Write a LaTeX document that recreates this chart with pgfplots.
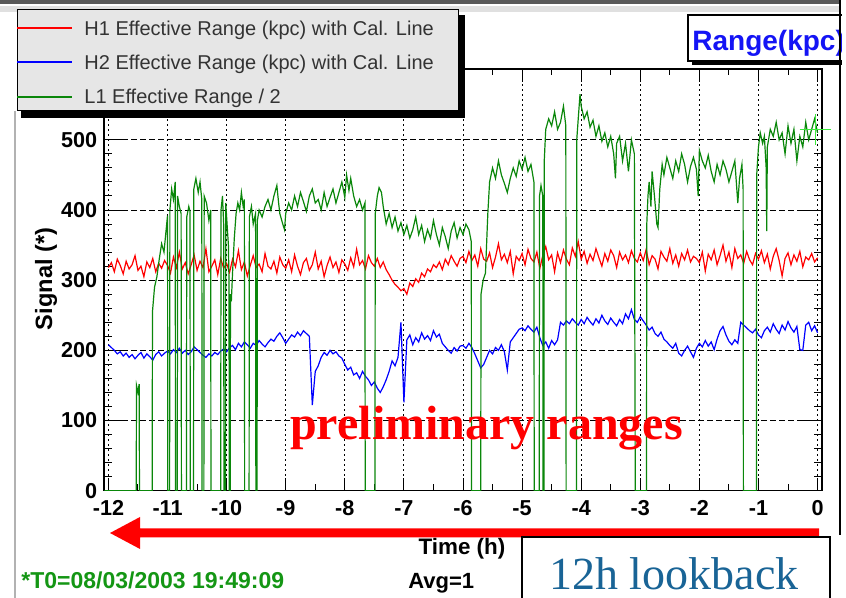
\documentclass[border=0pt]{standalone}
\usepackage{pgfplots}
\pgfplotsset{compat=1.18}
\usepackage{pgfplotstable}
\usepackage{fontspec}
\setmainfont{Liberation Sans}
\newfontfamily\timesfont{Liberation Serif}

\definecolor{h1red}{RGB}{255,0,0}
\definecolor{h2blue}{RGB}{0,0,255}
\definecolor{l1green}{RGB}{10,135,10}
\definecolor{markgreen}{RGB}{60,235,60}
\definecolor{legfill}{RGB}{230,230,230}
\definecolor{lookblue}{RGB}{25,100,150}
\definecolor{tgreen}{RGB}{20,150,20}
\definecolor{titleblue}{RGB}{20,20,245}

\pgfplotstableread{
t h1 h2
-12.00 318 208
-11.95 325 204
-11.90 312 200
-11.85 330 195
-11.80 321 198
-11.75 309 192
-11.70 327 196
-11.65 316 190
-11.60 322 194
-11.55 335 188
-11.50 314 193
-11.45 320 197
-11.40 305 189
-11.35 326 195
-11.30 318 191
-11.25 331 186
-11.20 312 194
-11.15 324 198
-11.10 317 192
-11.05 328 196
-11.00 321 199
-10.95 310 195
-10.90 333 201
-10.85 318 197
-10.80 340 203
-10.75 316 196
-10.70 325 200
-10.65 309 194
-10.60 322 198
-10.55 336 205
-10.50 314 201
-10.45 327 197
-10.40 318 193
-10.35 345 190
-10.30 312 195
-10.25 320 192
-10.20 329 197
-10.15 308 194
-10.10 331 199
-10.05 317 202
-10.00 324 198
-9.95 311 204
-9.90 330 207
-9.85 319 201
-9.80 342 210
-9.75 315 205
-9.70 326 212
-9.65 306 208
-9.60 321 203
-9.55 335 210
-9.50 318 207
-9.45 323 214
-9.40 312 209
-9.35 338 205
-9.30 320 211
-9.25 316 216
-9.20 327 213
-9.15 310 220
-9.10 333 225
-9.05 322 218
-9.00 317 210
-8.95 329 216
-8.90 312 222
-8.85 336 219
-8.80 320 226
-8.75 308 221
-8.70 325 228
-8.65 331 224
-8.60 314 220
-8.55 322 122
-8.50 340 170
-8.45 316 178
-8.40 327 190
-8.35 305 197
-8.30 321 193
-8.25 333 200
-8.20 318 195
-8.15 326 198
-8.10 311 192
-8.05 329 189
-8.00 323 180
-7.95 314 172
-7.90 332 176
-7.85 319 165
-7.80 344 168
-7.75 322 160
-7.70 328 170
-7.65 316 163
-7.60 335 158
-7.55 325 150
-7.50 320 155
-7.45 331 146
-7.40 318 140
-7.35 326 148
-7.30 315 158
-7.25 308 170
-7.20 300 185
-7.15 294 178
-7.10 290 190
-7.05 285 240
-7.00 288 126
-6.95 280 215
-6.90 296 222
-6.85 291 208
-6.80 302 218
-6.75 297 212
-6.70 310 225
-6.65 305 216
-6.60 316 221
-6.55 312 214
-6.50 322 228
-6.45 318 219
-6.40 326 223
-6.35 315 210
-6.30 330 205
-6.25 322 200
-6.20 335 196
-6.15 327 204
-6.10 320 199
-6.05 331 206
-6.00 334 207
-5.95 325 203
-5.90 341 210
-5.85 328 204
-5.80 336 195
-5.75 320 185
-5.70 345 175
-5.65 330 180
-5.60 327 190
-5.55 339 200
-5.50 318 195
-5.45 333 204
-5.40 352 200
-5.35 329 208
-5.30 337 198
-5.25 325 172
-5.20 341 212
-5.15 309 218
-5.10 334 224
-5.05 328 230
-5.00 338 232
-4.95 322 228
-4.90 344 235
-4.85 331 230
-4.80 326 226
-4.75 340 233
-4.70 317 218
-4.65 335 207
-4.60 348 212
-4.55 329 203
-4.50 336 214
-4.45 312 208
-4.40 339 215
-4.35 325 240
-4.30 343 236
-4.25 330 242
-4.20 322 238
-4.15 346 245
-4.10 334 240
-4.05 355 236
-4.00 330 244
-3.95 341 238
-3.90 324 247
-3.85 337 241
-3.80 328 236
-3.75 345 245
-3.70 332 239
-3.65 320 250
-3.60 338 242
-3.55 327 237
-3.50 343 246
-3.45 335 240
-3.40 318 235
-3.35 340 244
-3.30 329 238
-3.25 336 252
-3.20 325 245
-3.15 342 258
-3.10 331 244
-3.05 326 240
-3.00 339 248
-2.95 328 242
-2.90 344 236
-2.85 322 229
-2.80 335 233
-2.75 330 224
-2.70 316 220
-2.65 341 226
-2.60 333 216
-2.55 327 212
-2.50 345 207
-2.45 324 203
-2.40 336 210
-2.35 320 196
-2.30 338 192
-2.25 329 200
-2.20 343 206
-2.15 326 198
-2.10 334 190
-2.05 331 203
-2.00 325 210
-1.95 340 205
-1.90 313 214
-1.85 337 206
-1.80 329 212
-1.75 343 201
-1.70 322 216
-1.65 335 228
-1.60 350 234
-1.55 327 222
-1.50 340 213
-1.45 318 208
-1.40 345 215
-1.35 331 210
-1.30 336 240
-1.25 324 236
-1.20 341 232
-1.15 329 228
-1.10 322 225
-1.05 338 230
-1.00 330 222
-0.95 342 218
-0.90 325 228
-0.85 337 233
-0.80 316 226
-0.75 334 238
-0.70 345 230
-0.65 328 224
-0.60 306 236
-0.55 331 229
-0.50 339 241
-0.45 322 232
-0.40 336 226
-0.35 327 234
-0.30 341 201
-0.25 319 200
-0.20 333 236
-0.15 329 240
-0.10 338 228
-0.05 326 235
0.00 332 225
}\rangedata

\begin{document}
\begin{tikzpicture}
\path[use as bounding box] (0pt,0pt) rectangle (423pt,299pt);
\begin{scope}[x=0.5pt,y=-0.5pt,shift={(0pt,299pt)}]
\fill[white] (0,0) rectangle (846,598);
\fill[black!65] (0,0) rectangle (840,4.5);
\fill[black!12] (0,6) rectangle (840,12);
\draw[black!30, line width=0.6pt] (15,111) -- (15,598);
\end{scope}

\begin{axis}[
  at={(52.15pt,53.65pt)}, anchor=south west,
  scale only axis, width=358.7pt, height=210.85pt,
  xmin=-12.07, xmax=0.07, ymin=0, ymax=601,
  xtick={-12,-11,-10,-9,-8,-7,-6,-5,-4,-3,-2,-1,0},
  xticklabels={-12,-11,-10,-9,-8,-7,-6,-5,-4,-3,-2,-1,0},
  ytick={0,100,200,300,400,500},
  yticklabels={0,100,200,300,400,500},
  minor x tick num=1, minor y tick num=4,
  tick align=inside, tick pos=both,
  x tick style={black, line width=0.5pt, /pgfplots/major tick length=6.3pt, /pgfplots/minor tick length=3.2pt},
  y tick style={black, line width=0.5pt, /pgfplots/major tick length=10.5pt, /pgfplots/minor tick length=4pt},
  grid=major,
  major x grid style={black, line width=0.5pt, dash pattern=on 1pt off 1.5pt},
  major y grid style={black, line width=0.5pt, dash pattern=on 3pt off 1.5pt},
  axis line style={black, line width=0.8pt},
  ticklabel style={font=\bfseries\fontsize{10.8}{12}\selectfont},
  xticklabel style={yshift=-1.4pt},
  clip mode=individual,
]
\addplot[sharp plot, h1red, line width=0.6pt] table[x=t, y=h1] {\rangedata};
\addplot[sharp plot, h2blue, line width=0.6pt] table[x=t, y=h2] {\rangedata};
\addplot[sharp plot, l1green, line width=0.6pt] coordinates {
(-12.07,0) (-11.53,0) (-11.525,150) (-11.50,140) (-11.48,152) (-11.475,0) (-11.26,0) (-11.255,255) (-11.22,290) (-11.18,305) (-11.14,330) (-11.10,352) (-11.06,340) (-11.02,375) (-11.0,392) (-10.995,0) (-10.965,0) (-10.96,400) (-10.93,430) (-10.90,415) (-10.87,440) (-10.865,0) (-10.835,0) (-10.83,420) (-10.80,405) (-10.77,395) (-10.765,0) (-10.68,0) (-10.675,390) (-10.64,405) (-10.62,398) (-10.615,0) (-10.56,0) (-10.555,430) (-10.52,445) (-10.48,425) (-10.45,440) (-10.42,415) (-10.415,0) (-10.385,0) (-10.38,420) (-10.34,410) (-10.30,385) (-10.27,400) (-10.265,0) (-10.10,0) (-10.095,400) (-10.07,420) (-10.05,380) (-10.045,0) (-10.02,0) (-10.015,410) (-10.0,390) (-9.97,350) (-9.96,300) (-9.955,0) (-9.94,0) (-9.935,280) (-9.92,270) (-9.90,310) (-9.87,360) (-9.84,395) (-9.81,410) (-9.78,400) (-9.75,425) (-9.72,405) (-9.70,415) (-9.695,0) (-9.62,0) (-9.615,390) (-9.58,405) (-9.55,380) (-9.51,395) (-9.505,0) (-9.485,0) (-9.48,385) (-9.45,400) (-9.40,390) (-9.35,405) (-9.30,415) (-9.25,400) (-9.20,420) (-9.15,435) (-9.12,410) (-9.10,395) (-9.05,380) (-9.02,372) (-9.0,395) (-8.95,410) (-8.90,400) (-8.85,420) (-8.80,405) (-8.75,425) (-8.70,412) (-8.65,398) (-8.60,420) (-8.55,430) (-8.50,410) (-8.45,415) (-8.40,400) (-8.35,425) (-8.30,405) (-8.25,418) (-8.20,430) (-8.15,410) (-8.10,425) (-8.05,440) (-8.00,418) (-7.97,450) (-7.93,428) (-7.90,445) (-7.85,420) (-7.80,405) (-7.75,415) (-7.70,400) (-7.66,410) (-7.655,0) (-7.49,0) (-7.485,395) (-7.45,420) (-7.42,432) (-7.38,425) (-7.35,405) (-7.30,380) (-7.25,395) (-7.20,375) (-7.15,390) (-7.10,370) (-7.05,382) (-7.00,365) (-6.95,378) (-6.90,360) (-6.85,372) (-6.80,390) (-6.75,365) (-6.70,378) (-6.65,355) (-6.60,372) (-6.55,360) (-6.50,385) (-6.45,365) (-6.40,350) (-6.35,375) (-6.30,362) (-6.25,345) (-6.20,370) (-6.15,382) (-6.10,360) (-6.05,375) (-6.00,365) (-5.95,380) (-5.90,372) (-5.86,355) (-5.855,0) (-5.70,0) (-5.695,280) (-5.66,300) (-5.62,310) (-5.58,395) (-5.55,440) (-5.50,460) (-5.45,445) (-5.40,470) (-5.35,450) (-5.30,438) (-5.25,425) (-5.20,445) (-5.15,460) (-5.10,448) (-5.05,470) (-5.00,458) (-4.95,475) (-4.90,455) (-4.85,465) (-4.80,440) (-4.795,0) (-4.71,0) (-4.705,420) (-4.68,435) (-4.65,420) (-4.645,0) (-4.63,0) (-4.625,470) (-4.60,515) (-4.55,530) (-4.50,520) (-4.45,540) (-4.40,515) (-4.35,525) (-4.30,548) (-4.26,520) (-4.255,0) (-4.08,0) (-4.075,500) (-4.05,530) (-4.02,565) (-4.00,548) (-3.95,530) (-3.90,540) (-3.85,518) (-3.80,528) (-3.75,505) (-3.70,520) (-3.65,498) (-3.60,510) (-3.55,490) (-3.50,505) (-3.45,480) (-3.42,445) (-3.40,495) (-3.35,505) (-3.30,470) (-3.25,495) (-3.20,455) (-3.15,500) (-3.10,480) (-3.085,0) (-2.895,0) (-2.89,380) (-2.87,420) (-2.85,440) (-2.82,405) (-2.80,455) (-2.76,420) (-2.72,380) (-2.70,375) (-2.67,430) (-2.63,465) (-2.60,450) (-2.55,475) (-2.50,460) (-2.45,445) (-2.40,470) (-2.35,455) (-2.30,480) (-2.25,465) (-2.20,440) (-2.15,462) (-2.10,475) (-2.05,458) (-2.02,420) (-2.00,485) (-1.95,470) (-1.90,460) (-1.85,478) (-1.80,455) (-1.75,440) (-1.70,465) (-1.65,450) (-1.60,470) (-1.55,458) (-1.50,440) (-1.45,455) (-1.40,470) (-1.35,410) (-1.32,445) (-1.28,465) (-1.26,430) (-1.255,0) (-1.035,0) (-1.03,450) (-1.00,490) (-0.97,510) (-0.93,495) (-0.90,505) (-0.87,460) (-0.86,370) (-0.85,490) (-0.80,515) (-0.75,505) (-0.70,525) (-0.65,500) (-0.60,510) (-0.55,480) (-0.50,520) (-0.45,495) (-0.40,515) (-0.35,470) (-0.30,505) (-0.25,490) (-0.20,525) (-0.15,500) (-0.10,515) (-0.05,530) (0.0,510)
};
\addplot[only marks, mark=+, mark size=7.75pt, markgreen, line width=0.6pt] coordinates {(-0.04,515)};
\end{axis}

\begin{scope}[x=0.5pt,y=-0.5pt,shift={(0pt,299pt)}]
% legend
\fill[black] (21,15) rectangle (465,118);
\draw[fill=legfill, line width=0.5pt] (17,10) rectangle (458,111);
\draw[h1red, line width=0.6pt] (17,28) -- (72,28);
\draw[h2blue, line width=0.6pt] (17,62) -- (72,62);
\draw[l1green, line width=0.6pt] (17,97) -- (72,97);
\begin{scope}[every node/.style={anchor=base west, inner sep=0pt, text=black!80, font=\fontsize{10}{12}\selectfont}]
\node at (84,35.5) {H1 Effective Range (kpc) with Cal. Line};
\node at (84,69.5) {H2 Effective Range (kpc) with Cal. Line};
\node at (84,104) {L1 Effective Range / 2};
\end{scope}

% title box
\fill[black] (692,19) rectangle (852,65);
\draw[fill=white, line width=0.8pt] (688,15) rectangle (850,61);
\node[anchor=base west, inner sep=0pt, text=titleblue, font=\bfseries\fontsize{14}{17}\selectfont] at (692,51) {Range(kpc)};
\fill[white] (841.5,-5) rectangle (852,605);
\draw[black, line width=1.3pt] (840,0) -- (840,535);

% axis titles
\node[rotate=90, inner sep=0pt, font=\bfseries\fontsize{11.8}{14}\selectfont] at (46,279) {Signal (*)};
\node[anchor=base, inner sep=0pt, font=\bfseries\fontsize{11.2}{13}\selectfont] at (462,555) {Time (h)};

% arrow
\fill[h1red] (110,533) -- (140,517) -- (140,528.5) -- (819,528.5) -- (819,537.5) -- (140,537.5) -- (140,549) -- cycle;

% annotation
\node[anchor=base, inner sep=0pt, text=h1red, font=\timesfont\bfseries\fontsize{24}{28}\selectfont] at (486.5,440) {preliminary ranges};

% footer
\node[anchor=base west, inner sep=0pt, text=tgreen, font=\bfseries\fontsize{11.5}{13}\selectfont] at (21,589) {*T0=08/03/2003 19:49:09};
\node[anchor=base west, inner sep=0pt, font=\bfseries\fontsize{11}{13}\selectfont] at (408,589) {Avg=1};
\draw[black, line width=1pt, fill=white] (522,537) rectangle (830,606);
\node[anchor=base, inner sep=0pt, text=lookblue, font=\timesfont\fontsize{23}{27}\selectfont] at (674,590) {12h lookback};
\end{scope}
\end{tikzpicture}
\end{document}
